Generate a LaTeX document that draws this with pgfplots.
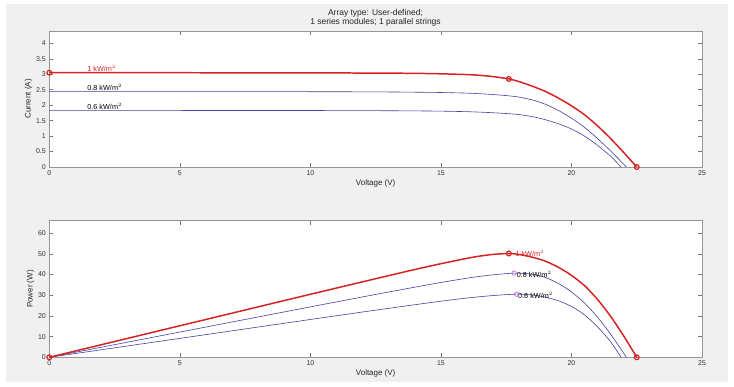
\documentclass[border=0pt]{standalone}
\usepackage{fontspec}
\setmainfont{Liberation Sans}
\usepackage{pgfplots}
\pgfplotsset{compat=1.18}
\definecolor{figgray}{RGB}{240,240,240}
\definecolor{mred}{RGB}{215,35,35}
\definecolor{mblue}{RGB}{65,65,160}
\definecolor{mpurp}{RGB}{190,90,215}
\definecolor{axgray}{RGB}{150,150,150}

\pgfplotstableread{
V I
0 3.05
2 3.05
4 3.05
6 3.049
8 3.047
10 3.045
12 3.04
13 3.036
14 3.03
15 3.015
16 2.99
16.5 2.965
17 2.925
17.6 2.85
18 2.76
18.5 2.615
19 2.445
19.5 2.23
20 1.98
20.5 1.69
21 1.33
21.5 0.92
22 0.47
22.5 0
}\ivA
\pgfplotstableread{
V I
0 2.44
2 2.44
4 2.44
6 2.439
8 2.438
10 2.436
12 2.432
13 2.428
14 2.42
15 2.41
16 2.39
16.5 2.37
17 2.345
17.5 2.31
17.8 2.285
18 2.26
18.5 2.17
19 2.03
19.5 1.83
20 1.58
20.5 1.28
21 0.92
21.5 0.52
22 0.09
22.1 0
}\ivB
\pgfplotstableread{
V I
0 1.83
2 1.83
4 1.83
6 1.829
8 1.828
10 1.827
12 1.824
13 1.82
14 1.815
15 1.807
16 1.79
16.5 1.775
17 1.755
17.5 1.73
17.9 1.705
18 1.695
18.5 1.63
19 1.53
19.5 1.40
20 1.23
20.5 1.00
21 0.70
21.5 0.35
21.9 0
}\ivC
\pgfplotstableread{
V P
0 0
2 6.10
4 12.20
6 18.29
8 24.38
10 30.45
12 36.48
13 39.47
14 42.42
15 45.23
16 47.84
16.5 48.92
17 49.73
17.6 50.16
18 49.68
18.5 48.38
19 46.46
19.5 43.49
20 39.60
20.5 34.65
21 27.93
21.5 19.78
22 10.34
22.5 0
}\pvA
\pgfplotstableread{
V P
0 0
2 4.88
4 9.76
6 14.63
8 19.50
10 24.36
12 29.18
13 31.56
14 33.88
15 36.15
16 38.24
16.5 39.11
17 39.87
17.5 40.43
17.8 40.67
18 40.68
18.5 40.15
19 38.57
19.5 35.69
20 31.60
20.5 26.24
21 19.32
21.5 11.18
22 1.98
22.1 0
}\pvB
\pgfplotstableread{
V P
0 0
2 3.66
4 7.32
6 10.97
8 14.62
10 18.27
12 21.89
13 23.66
14 25.41
15 27.11
16 28.64
16.5 29.29
17 29.84
17.5 30.28
17.9 30.52
18 30.51
18.5 30.16
19 29.07
19.5 27.30
20 24.60
20.5 20.50
21 14.70
21.5 7.53
21.9 0
}\pvC

\tikzset{lab/.style={font=\fontsize{7.3}{8}\selectfont, inner sep=0pt}}
\pgfplotsset{
  myax/.style={
    scale only axis, width=652.7bp,
    xmin=0, xmax=25, xtick={0,5,...,25},
    axis background/.style={fill=white},
    axis line style={axgray, line width=0.6pt},
    tick align=inside, major tick length=4bp,
    every tick/.style={axgray!80!black, line width=0.5pt},
    ticklabel style={font=\fontsize{7}{8}\selectfont, text=black!80},
    /pgf/number format/assume math mode=true,
    label style={font=\fontsize{8}{9}\selectfont, text=black!85},
    xlabel={Voltage (V)},
    xlabel style={yshift=3bp},
    ylabel style={yshift=-3bp},
    clip=false,
  },
}

\begin{document}
\begin{tikzpicture}[x=1bp,y=1bp]
\fill[white] (0,0) rectangle (734,386);
\fill[figgray] (6,4) rectangle (728,382);
\node[font=\fontsize{8.5}{9.5}\selectfont, align=center, text=black!85] at (375.5,368) {Array type: User-defined;\\1 series modules; 1 parallel strings};

% top axis
\begin{axis}[myax, at={(49.3bp,219bp)}, anchor=south west, height=136bp,
  ymin=0, ymax=4.4, ytick={0,0.5,...,4}, yticklabels={0,0.5,1,1.5,2,2.5,3,3.5,4},
  ylabel={Current (A)}]
\addplot[mblue, line width=0.6pt, smooth, tension=0.4] table[x=V,y=I] {\ivB};
\addplot[mblue, line width=0.6pt, smooth, tension=0.4] table[x=V,y=I] {\ivC};
\addplot[mred, line width=1.5pt, smooth, tension=0.4] table[x=V,y=I] {\ivA};
\addplot[only marks, mark=o, mark size=2.4pt, mred, mark options={line width=1.2pt, fill=mred!60}] coordinates {(0,3.05) (17.6,2.85) (22.5,0)};
\node[lab, text=mred, anchor=south west] at (axis cs:1.45,3.07) {1 kW/m$^{2}$};
\node[lab, text=black, anchor=south west] at (axis cs:1.45,2.46) {0.8 kW/m$^{2}$};
\node[lab, text=black, anchor=south west] at (axis cs:1.45,1.85) {0.6 kW/m$^{2}$};
\end{axis}

% bottom axis
\begin{axis}[myax, at={(49.3bp,28.7bp)}, anchor=south west, height=136.6bp,
  ymin=0, ymax=66, ytick={0,10,...,60},
  ylabel={Power (W)}]
\addplot[mblue, line width=0.6pt, smooth, tension=0.4] table[x=V,y=P] {\pvB};
\addplot[mblue, line width=0.6pt, smooth, tension=0.4] table[x=V,y=P] {\pvC};
\addplot[mred, line width=1.5pt, smooth, tension=0.4] table[x=V,y=P] {\pvA};
\addplot[only marks, mark=o, mark size=2.4pt, mred, mark options={line width=1.2pt, fill=mred!60}] coordinates {(0,0) (17.6,50.16) (22.5,0)};
\addplot[only marks, mark=o, mark size=2.2pt, mpurp, mark options={line width=0.6pt}] coordinates {(17.8,40.67) (17.9,30.52)};
\node[lab, text=mred, anchor=west] at (axis cs:17.85,50) {1 kW/m$^{2}$};
\node[lab, text=black, anchor=west] at (axis cs:17.9,40.1) {0.8 kW/m$^{2}$};
\node[lab, text=black, anchor=west] at (axis cs:17.95,30.1) {0.6 kW/m$^{2}$};
\end{axis}
\end{tikzpicture}
\end{document}
